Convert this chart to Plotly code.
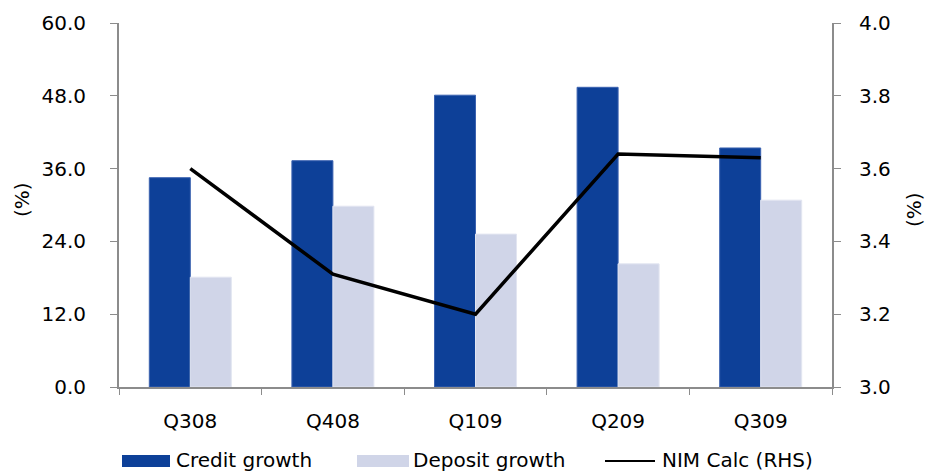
import plotly.graph_objects as go

# Quarterly data
quarters = ["Q308", "Q408", "Q109", "Q209", "Q309"]
credit_growth = [34.5, 37.3, 48.1, 49.4, 39.4]
deposit_growth = [18.1, 29.8, 25.2, 20.3, 30.8]
nim_calc = [3.60, 3.31, 3.20, 3.64, 3.63]

left_ticks = [0, 12, 24, 36, 48, 60]
right_ticks = [3.0, 3.2, 3.4, 3.6, 3.8, 4.0]

CREDIT = "#0D4098"
DEPOSIT = "#D0D5E8"
AXIS = "#8C8C8C"
FONT = "DejaVu Sans"

W, H = 928, 472
L, R, T, B = 119, 96, 23, 85
PW, PH = W - L - R, H - T - B


def px(x):
    return (x - L) / PW


def py(y):
    return (H - B - y) / PH


fig = go.Figure()
fig.add_trace(go.Bar(
    x=quarters, y=credit_growth, name="Credit growth",
    marker=dict(color=CREDIT, line=dict(color="#3B62B0", width=1)),
))
fig.add_trace(go.Bar(
    x=quarters, y=deposit_growth, name="Deposit growth",
    marker=dict(color=DEPOSIT, line=dict(color="#E2E5F1", width=1)),
))
fig.add_trace(go.Scatter(
    x=quarters, y=nim_calc, name="NIM Calc (RHS)", yaxis="y2",
    mode="lines", line=dict(color="black", width=3.5),
))

fig.update_layout(
    width=W, height=H,
    margin=dict(l=L, r=R, t=T, b=B, pad=0),
    paper_bgcolor="white", plot_bgcolor="white",
    barmode="group", bargap=0.425, bargroupgap=0,
    showlegend=False,
    font=dict(family=FONT, size=20, color="black"),
    xaxis=dict(
        type="category", showgrid=False, showline=True, linecolor=AXIS, linewidth=2,
        ticks="outside", tickson="boundaries", ticklen=6, tickcolor=AXIS, tickwidth=1,
        ticklabelstandoff=15,
    ),
    yaxis=dict(
        range=[0, 60], tickvals=left_ticks, tickformat=".1f",
        showgrid=False, zeroline=False, showline=True, linecolor=AXIS, linewidth=2,
        ticks="outside", ticklen=7, tickcolor=AXIS, tickwidth=1,
        ticklabelstandoff=20,
    ),
    yaxis2=dict(
        range=[3.0, 4.0], tickvals=right_ticks, tickformat=".1f",
        overlaying="y", side="right",
        showgrid=False, zeroline=False, showline=True, linecolor=AXIS, linewidth=2,
        ticks="outside", ticklen=7, tickcolor=AXIS, tickwidth=1,
        ticklabelstandoff=14,
    ),
)

# Axis titles
fig.add_annotation(x=px(22), y=py(200), xref="paper", yref="paper", text="(%)",
                   textangle=-90, showarrow=False, xanchor="center", yanchor="middle")
fig.add_annotation(x=px(914), y=py(210), xref="paper", yref="paper", text="(%)",
                   textangle=-90, showarrow=False, xanchor="center", yanchor="middle")

# Legend row along the bottom
leg_y = 459.5
fig.add_shape(type="rect", xref="paper", yref="paper",
              x0=px(122), x1=px(170), y0=py(455), y1=py(467),
              fillcolor=CREDIT, line=dict(width=0))
fig.add_annotation(x=px(174), y=py(leg_y), xref="paper", yref="paper",
                   text="Credit growth", showarrow=False, xanchor="left", yanchor="middle")
fig.add_shape(type="rect", xref="paper", yref="paper",
              x0=px(357), x1=px(409), y0=py(455), y1=py(467),
              fillcolor=DEPOSIT, line=dict(width=0))
fig.add_annotation(x=px(411), y=py(leg_y), xref="paper", yref="paper",
                   text="Deposit growth", showarrow=False, xanchor="left", yanchor="middle")
fig.add_shape(type="line", xref="paper", yref="paper",
              x0=px(605), x1=px(655), y0=py(461), y1=py(461),
              line=dict(color="black", width=2))
fig.add_annotation(x=px(660), y=py(leg_y), xref="paper", yref="paper",
                   text="NIM Calc (RHS)", showarrow=False, xanchor="left", yanchor="middle")

fig.write_html("out.html")
